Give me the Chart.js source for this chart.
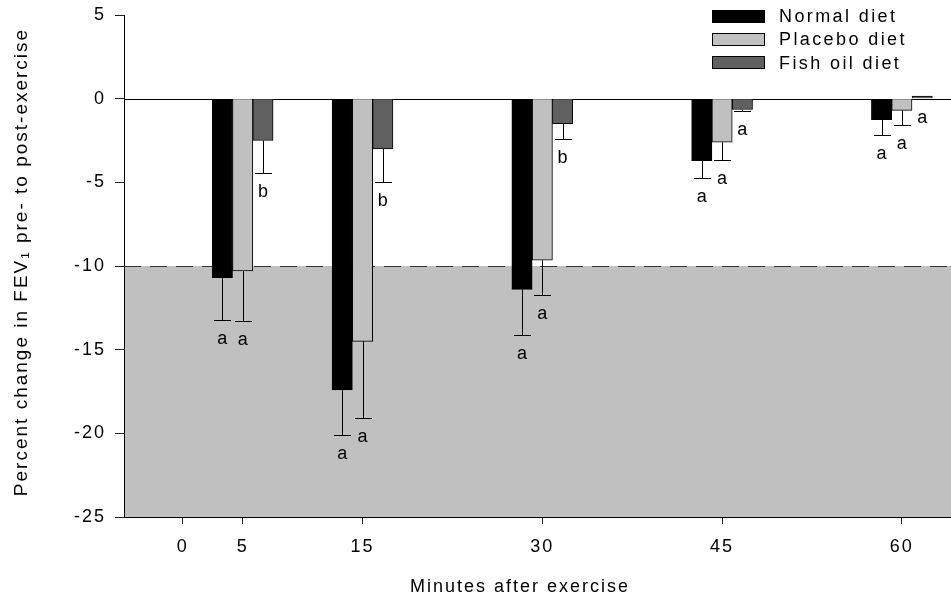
<!DOCTYPE html>
<html>
<head>
<meta charset="utf-8">
<script src="https://cdn.jsdelivr.net/npm/chart.js@4.4.1/dist/chart.umd.min.js"></script>
<style>
  html, body { margin: 0; padding: 0; background: #fff; }
</style>
</head>
<body>
<canvas id="fev" width="951" height="599"></canvas>
<script>
// data
const minutes = [5, 15, 30, 45, 60];
const xTicks = [0, 5, 15, 30, 45, 60];
const yTicks = [5, 0, -5, -10, -15, -20, -25];
const seriesNames = ['Normal diet', 'Placebo diet', 'Fish oil diet'];

const normal = [-10.7, -17.4, -11.4, -3.7, -1.25];
const normalErr = [2.5, 2.7, 2.7, 1.05, 0.95];
const normalLetters = ['a', 'a', 'a', 'a', 'a'];

const placebo = [-10.3, -14.5, -9.65, -2.6, -0.7];
const placeboErr = [3.0, 4.6, 2.1, 1.05, 0.9];
const placeboLetters = ['a', 'a', 'a', 'a', 'a'];

const fishOil = [-2.5, -3.0, -1.5, -0.65, 0.15];
const fishOilErr = [1.95, 2.0, 0.9, 0.1, 0];
const fishOilLetters = ['b', 'b', 'b', 'a', 'a'];

const threshold = -10;

const FONT = "'Liberation Sans', Arial, sans-serif";
Chart.defaults.font.family = FONT;
Chart.defaults.font.size = 18;
Chart.defaults.color = '#000';

function points(vals) {
  return minutes.map((m, i) => ({x: m, y: vals[i]}));
}

// grey zone below -10 %, dashed threshold and zero line
const backdrop = {
  id: 'backdrop',
  beforeDraw(chart) {
    const {ctx, chartArea: a, scales: {y}} = chart;
    ctx.letterSpacing = '2px';
    const top = Math.round(y.getPixelForValue(threshold));
    ctx.save();
    ctx.fillStyle = '#c0c0c0';
    ctx.fillRect(a.left, top, a.right - a.left, a.bottom - top);
    ctx.strokeStyle = '#333';
    ctx.lineWidth = 1;
    ctx.setLineDash([17, 9]);
    ctx.beginPath();
    ctx.moveTo(a.left, top + 0.5);
    ctx.lineTo(a.right, top + 0.5);
    ctx.stroke();
    ctx.setLineDash([]);
    const zero = Math.round(y.getPixelForValue(0)) + 0.5;
    ctx.strokeStyle = '#000';
    ctx.beginPath();
    ctx.moveTo(a.left, zero);
    ctx.lineTo(a.right, zero);
    ctx.stroke();
    ctx.restore();
  }
};

const errorBars = {
  id: 'errorBars',
  afterDatasetsDraw(chart) {
    const {ctx, scales: {y}} = chart;
    ctx.save();
    ctx.strokeStyle = '#000';
    ctx.lineWidth = 1;
    ctx.fillStyle = '#000';
    ctx.font = '18px ' + FONT;
    ctx.letterSpacing = '0px';
    ctx.textAlign = 'center';
    ctx.textBaseline = 'middle';
    chart.data.datasets.forEach((ds, di) => {
      chart.getDatasetMeta(di).data.forEach((bar, i) => {
        const v = ds.data[i].y;
        const e = ds.err[i];
        if (e > 0) {
          const tip = v < 0 ? v - e : v + e;
          const yTip = Math.round(y.getPixelForValue(tip)) + 0.5;
          const x = Math.round(bar.x) + 0.5;
          ctx.beginPath();
          ctx.moveTo(x, bar.y);
          ctx.lineTo(x, yTip);
          ctx.moveTo(x - 8.5, yTip);
          ctx.lineTo(x + 8.5, yTip);
          ctx.stroke();
        }
        const anchor = Math.min(v, 0) - e;
        ctx.fillText(ds.letters[i], bar.x, y.getPixelForValue(anchor) + 19);
      });
    });
    ctx.restore();
  }
};

const legendBox = {
  id: 'legendBox',
  afterDraw(chart) {
    const ctx = chart.ctx;
    ctx.save();
    ctx.font = '18px ' + FONT;
    ctx.letterSpacing = '2.4px';
    ctx.textAlign = 'left';
    ctx.textBaseline = 'middle';
    chart.data.datasets.forEach((ds, i) => {
      const cy = 16 + i * 23.3;
      const top = Math.round(cy - 6.5);
      ctx.fillStyle = ds.backgroundColor;
      ctx.fillRect(712, top, 53, 13);
      ctx.strokeStyle = '#000';
      ctx.lineWidth = 1;
      ctx.strokeRect(712.5, top + 0.5, 52, 12);
      ctx.fillStyle = '#000';
      ctx.fillText(ds.label, 779, cy + 1);
    });
    ctx.restore();
  }
};

const axisTitles = {
  id: 'axisTitles',
  afterDraw(chart) {
    const ctx = chart.ctx;
    ctx.save();
    ctx.fillStyle = '#000';
    ctx.letterSpacing = '2px';
    ctx.font = '18px ' + FONT;
    ctx.textAlign = 'center';
    ctx.textBaseline = 'alphabetic';
    ctx.fillText('Minutes after exercise', 520, 592);
    ctx.translate(22, 262);
    ctx.rotate(-Math.PI / 2);
    ctx.font = '19px ' + FONT;
    ctx.textBaseline = 'middle';
    ctx.fillText('Percent change in FEV\u2081 pre- to post-exercise', 0, 0);
    ctx.restore();
  }
};

const bar = (i, vals, err, letters, fill) => ({
  label: seriesNames[i],
  data: points(vals),
  err: err,
  letters: letters,
  backgroundColor: fill,
  borderColor: '#000',
  borderWidth: 1,
  barThickness: 20.3
});

new Chart(document.getElementById('fev'), {
  type: 'bar',
  data: {
    datasets: [
      bar(0, normal, normalErr, normalLetters, '#000000'),
      bar(1, placebo, placeboErr, placeboLetters, '#c0c0c0'),
      bar(2, fishOil, fishOilErr, fishOilLetters, '#606060')
    ]
  },
  options: {
    responsive: false,
    animation: false,
    devicePixelRatio: 1,
    layout: {padding: {top: 15, right: 0, bottom: 0, left: 0}},
    plugins: {legend: {display: false}, tooltip: {enabled: false}},
    scales: {
      x: {
        type: 'linear',
        offset: false,
        min: -4.9,
        max: 64.1,
        afterBuildTicks: s => { s.ticks = xTicks.map(v => ({value: v})); },
        afterFit: s => { s.height = 82; s.paddingLeft = 0; s.paddingRight = 0; },
        grid: {offset: false, drawOnChartArea: false, tickLength: 7, tickColor: '#222'},
        border: {color: '#000'},
        ticks: {padding: 12, autoSkip: false, maxRotation: 0, color: '#000'}
      },
      y: {
        min: -25,
        max: 5,
        afterBuildTicks: s => { s.ticks = yTicks.map(v => ({value: v})); },
        afterFit: s => { s.width = 124; s.paddingTop = 0; s.paddingBottom = 0; },
        grid: {drawOnChartArea: false, tickLength: 9, tickColor: '#222'},
        border: {color: '#000'},
        ticks: {padding: 9, color: '#000'}
      }
    }
  },
  plugins: [backdrop, errorBars, legendBox, axisTitles]
});
</script>
</body>
</html>
